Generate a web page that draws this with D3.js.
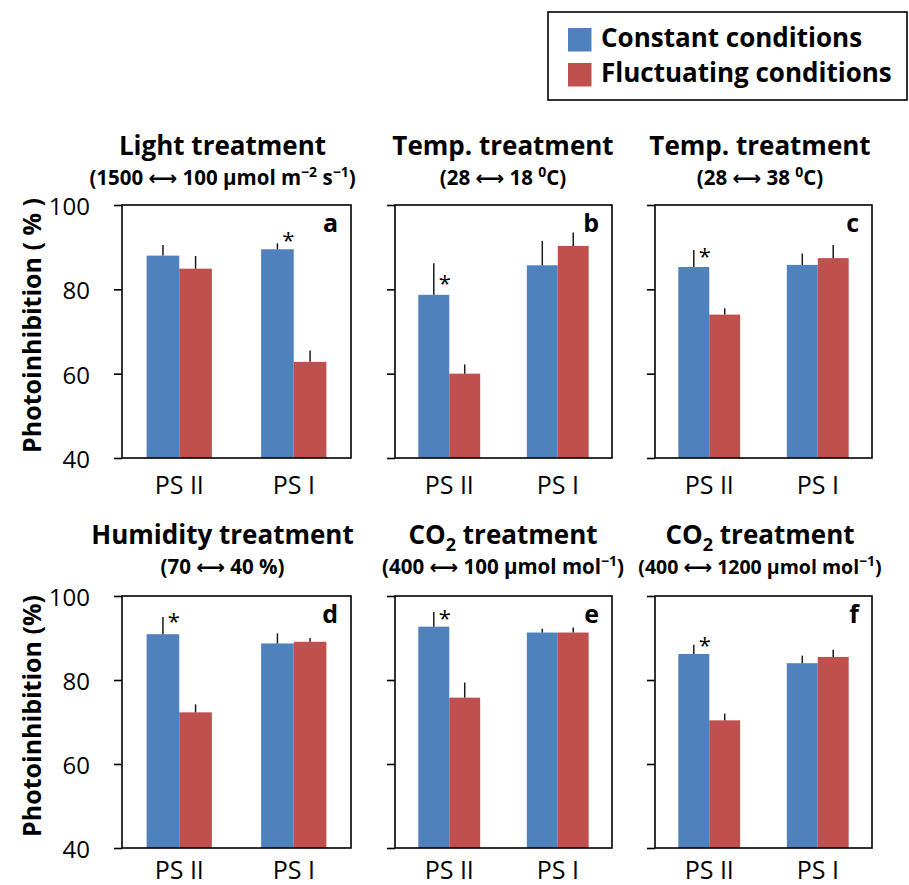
<!DOCTYPE html>
<html>
<head>
<meta charset="utf-8">
<script src="https://cdn.jsdelivr.net/npm/d3@7"></script>
<style>
  body { margin: 0; background: #fff; }
  text { font-family: "Open Sans", "DejaVu Sans", sans-serif; fill: #000; }
</style>
</head>
<body>
<svg id="chart" width="909" height="885"></svg>
<script>
// data
const groups = ["PS II", "PS I"];
const series = ["Constant conditions", "Fluctuating conditions"];
const colors = ["#4F81BD", "#C0504D"];
const letters = ["a", "b", "c", "d", "e", "f"];
const titles = ["Light treatment", "Temp. treatment", "Temp. treatment",
                "Humidity treatment", "CO2 treatment", "CO2 treatment"];
const yTicks = [40, 60, 80, 100];

// means [PS II, PS I] and upper error (SE) for each panel
const constantMean = [[88.0, 89.5], [78.7, 85.7], [85.3, 85.8], [90.9, 88.7], [92.7, 91.3], [86.2, 84.0]];
const constantErr  = [[2.5, 1.4], [7.5, 5.8], [4.0, 2.7], [4.1, 2.4], [3.5, 0.9], [2.2, 1.8]];
const fluctMean    = [[84.9, 62.8], [60.0, 90.3], [74.0, 87.4], [72.3, 89.1], [75.8, 91.3], [70.4, 85.5]];
const fluctErr     = [[3.0, 2.7], [2.2, 3.2], [1.5, 3.1], [1.9, 0.9], [3.6, 1.2], [1.6, 1.7]];

// significance marks: which group and at what height
const starGroup = [1, 0, 0, 0, 0, 0];
const starValue = [92.6, 82.5, 88.9, 94.9, 95.7, 89.4];

// subtitles as [text, kind] runs ("sup" = superscript, "arr" = arrow)
const subtitles = [
  [["(1500 ", ""], ["\u27f7", "arr"], [" 100 \u00b5mol m", ""], ["\u22122", "sup"], [" s", ""], ["\u22121", "sup"], [")", ""]],
  [["(28 ", ""], ["\u27f7", "arr"], [" 18 ", ""], ["0", "sup"], ["C)", ""]],
  [["(28 ", ""], ["\u27f7", "arr"], [" 38 ", ""], ["0", "sup"], ["C)", ""]],
  [["(70 ", ""], ["\u27f7", "arr"], [" 40 %)", ""]],
  [["(400 ", ""], ["\u27f7", "arr"], [" 100 \u00b5mol mol", ""], ["\u22121", "sup"], [")", ""]],
  [["(400 ", ""], ["\u27f7", "arr"], [" 1200 \u00b5mol mol", ""], ["\u22121", "sup"], [")", ""]]
];

// layout
const cols = [[122, 351], [395, 612], [655, 872]];
const rows = [[205, 458], [596, 848]];
const labelGap = [36, 31];
const titleX = [222.5, 503, 760];
const titleY = [155, 544];
const subSize = [20.5, 20.5, 20.5, 20.5, 20.5, 19.5];

const svg = d3.select("#chart");

letters.forEach(function (letter, i) {
  const c = i % 3, r = Math.floor(i / 3);
  const [x0, x1] = cols[c];
  const [y0, y1] = rows[r];

  const y = d3.scaleLinear().domain([40, 100]).range([y1, y0]);
  const xg = d3.scaleBand().domain(groups).range([x0, x1])
    .paddingInner(0.43).paddingOuter(0.215);
  const xs = d3.scaleBand().domain(series).range([0, xg.bandwidth()]);

  const rowsData = [];
  groups.forEach(function (g, gi) {
    rowsData.push({ g: g, s: series[0], v: constantMean[i][gi], e: constantErr[i][gi] });
    rowsData.push({ g: g, s: series[1], v: fluctMean[i][gi], e: fluctErr[i][gi] });
  });

  const p = svg.append("g");

  // bars
  p.selectAll("rect.bar")
    .data(rowsData)
    .join("rect")
      .attr("class", "bar")
      .attr("x", d => xg(d.g) + xs(d.s))
      .attr("y", d => y(d.v))
      .attr("width", xs.bandwidth())
      .attr("height", d => y(40) - y(d.v))
      .attr("fill", (d, k) => colors[k % 2]);

  // upper error bars
  p.selectAll("line.err")
    .data(rowsData)
    .join("line")
      .attr("class", "err")
      .attr("x1", d => xg(d.g) + xs(d.s) + xs.bandwidth() / 2)
      .attr("x2", d => xg(d.g) + xs(d.s) + xs.bandwidth() / 2)
      .attr("y1", d => y(d.v))
      .attr("y2", d => y(d.v + d.e))
      .attr("stroke", "#1a1a1a")
      .attr("stroke-width", 1.5);

  // frame
  p.append("rect")
    .attr("x", x0).attr("y", y0)
    .attr("width", x1 - x0).attr("height", y1 - y0)
    .attr("fill", "none").attr("stroke", "#000").attr("stroke-width", 1.6);

  // y axis (labels only in the first column)
  const ax = d3.axisLeft(y).tickValues(yTicks).tickSize(8).tickSizeOuter(0).tickPadding(24);
  if (c > 0) ax.tickFormat("");
  const ga = p.append("g").attr("transform", `translate(${x0},0)`).call(ax);
  ga.select(".domain").remove();
  ga.selectAll("line").attr("stroke", "#000").attr("stroke-width", 1.6);
  ga.selectAll("text").attr("font-size", 24).attr("fill", "#000")
    .attr("font-family", "'Open Sans', sans-serif").attr("dy", "0.4em");

  // x axis labels
  const gx = p.append("g").attr("transform", `translate(0,${y1})`)
    .call(d3.axisBottom(xg).tickSize(0).tickPadding(0));
  gx.select(".domain").remove();
  gx.selectAll("text").attr("font-size", 25).attr("fill", "#000")
    .attr("font-family", "'Open Sans', sans-serif").attr("y", labelGap[r]).attr("dy", 0);

  // panel letter
  p.append("text")
    .attr("x", x1 - 13).attr("y", y0 + 27)
    .attr("text-anchor", "end")
    .attr("font-size", 25).attr("font-weight", "bold")
    .text(letter);

  // significance asterisk
  const sg = groups[starGroup[i]];
  p.append("text")
    .attr("x", xg(sg) + xs(series[0]) + xs.bandwidth() / 2 + 11)
    .attr("y", y(starValue[i]) + 12)
    .attr("text-anchor", "middle")
    .attr("font-size", 22)
    .text("*");

  // title
  const t = p.append("text")
    .attr("x", titleX[c]).attr("y", titleY[r])
    .attr("text-anchor", "middle")
    .attr("font-size", 26).attr("font-weight", "bold");
  if (titles[i].startsWith("CO2")) {
    t.append("tspan").text("CO");
    t.append("tspan").attr("font-size", 18).attr("dy", 7).text("2");
    t.append("tspan").attr("dy", -7).text(" treatment");
  } else {
    t.text(titles[i]);
  }

  // subtitle
  const st = p.append("text")
    .attr("x", titleX[c]).attr("y", titleY[r] + 30)
    .attr("text-anchor", "middle")
    .attr("font-size", subSize[i]).attr("font-weight", "bold");
  let raised = false;
  subtitles[i].forEach(function (run) {
    const sp = st.append("tspan").text(run[0]);
    if (run[1] === "sup") {
      sp.attr("font-size", 14).attr("dy", raised ? 0 : -8);
      raised = true;
    } else {
      if (raised) sp.attr("dy", 8);
      raised = false;
      if (run[1] === "arr") {
        sp.attr("font-family", "'DejaVu Sans', sans-serif").attr("font-size", 20);
      }
    }
  });
});

// y axis titles
rows.forEach(function (rr, r) {
  svg.append("text")
    .attr("transform", `translate(41,${(rr[0] + rr[1]) / 2 - 6}) rotate(-90)`)
    .attr("text-anchor", "middle")
    .attr("font-size", 25).attr("font-weight", "bold")
    .text(r === 0 ? "Photoinhibition ( % )" : "Photoinhibition (%)");
});

// legend
const lg = svg.append("g");
lg.append("rect")
  .attr("x", 548).attr("y", 12).attr("width", 359).attr("height", 88)
  .attr("fill", "#fff").attr("stroke", "#000").attr("stroke-width", 1.6);
const li = lg.selectAll("g.item")
  .data(series)
  .join("g")
    .attr("class", "item")
    .attr("transform", (d, k) => `translate(568,${28 + k * 35})`);
li.append("rect")
  .attr("width", 23.5).attr("height", 23.5)
  .attr("fill", (d, k) => colors[k]);
li.append("text")
  .attr("x", 33).attr("y", 19)
  .attr("font-size", 26).attr("font-weight", "bold")
  .text(d => d);
</script>
</body>
</html>
